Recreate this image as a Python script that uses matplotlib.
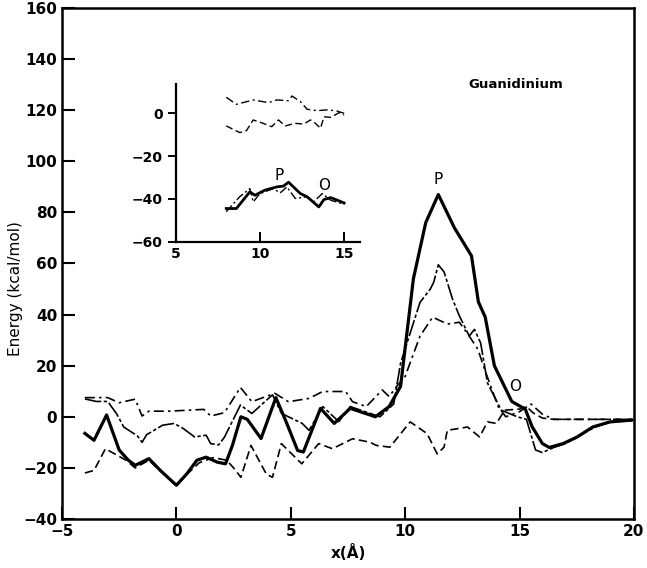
import matplotlib
matplotlib.use("Agg")
from matplotlib import pyplot as plt

# main panel: four energy profiles
xa = [-4.0, -3.6, -3.05, -2.5, -2.1, -1.8, -1.2, -0.7, 0.0, 0.45, 0.9, 1.3, 1.8, 2.15,
      2.45, 2.82, 3.1, 3.7, 4.35, 4.8, 5.3, 5.55, 6.3, 6.9, 7.6, 8.7, 9.3, 9.8, 10.36,
      10.9, 11.45, 12.15, 12.9, 13.2, 13.5, 13.9, 14.66, 15.25, 15.55, 16.0, 16.3, 16.9,
      17.5, 18.2, 18.95, 19.9]
ya = [-6.5, -9.2, 0.7, -13.0, -17.0, -19.0, -16.4, -21.0, -26.8, -22.4, -17.0, -15.8,
      -17.8, -18.4, -11.2, 0.0, -1.0, -8.5, 7.5, -2.0, -13.2, -13.8, 3.3, -2.6, 3.3, 0.0,
      4.0, 11.9, 54.0, 76.0, 87.0, 74.0, 63.0, 45.0, 39.0, 20.0, 6.0, 3.0, -3.9, -10.5,
      -12.0, -10.5, -8.0, -4.0, -2.0, -1.3]

xb = [-4.0, -3.5, -3.0, -2.6, -2.3, -1.7, -1.5, -1.3, -0.6, -0.1, 0.3, 0.8, 1.3, 1.5,
      1.85, 2.1, 2.8, 3.3, 4.2, 4.6, 5.5, 5.8, 6.4, 7.1, 7.6, 8.9, 9.5, 9.8, 10.65, 11.1,
      11.25, 11.45, 11.7, 12.07, 12.37, 12.8, 13.03, 13.3, 13.6, 14.2, 14.9, 15.3, 15.7,
      16.0, 16.5, 17.0, 17.6, 18.3, 19.0, 19.9]
yb = [7.0, 6.0, 6.0, 1.0, -4.0, -7.5, -10.0, -7.0, -3.3, -2.6, -4.6, -7.9, -7.2, -10.5,
      -11.0, -8.0, 4.6, 1.3, 8.6, 1.3, -2.6, -5.3, 4.0, -1.9, 4.0, 0.0, 5.0, 21.0, 44.8,
      50.0, 52.7, 59.5, 56.7, 46.1, 39.5, 31.6, 34.2, 28.9, 13.2, 2.6, 0.0, -1.0, -13.0,
      -14.0, -12.0, -10.5, -7.5, -4.0, -2.0, -1.5]

xc = [-4.0, -3.0, -2.5, -1.8, -1.5, -1.2, -0.3, 1.2, 1.5, 2.1, 2.8, 3.3, 4.3, 4.9, 5.8,
      6.4, 7.4, 7.7, 8.3, 9.0, 9.3, 9.63, 10.0, 10.65, 11.2, 11.85, 12.37, 12.8, 13.18,
      13.48, 14.07, 14.4, 15.0, 15.5, 16.0, 16.5, 18.0, 19.9]
yc = [7.5, 7.5, 5.5, 6.9, 0.3, 2.2, 2.2, 2.9, 0.3, 1.6, 11.5, 5.9, 9.2, 5.9, 7.2, 9.9,
      9.9, 5.9, 4.0, 10.5, 7.9, 11.9, 15.8, 31.6, 39.0, 36.3, 37.0, 31.6, 26.4, 18.4,
      3.9, 0.0, 2.0, 5.0, 1.0, -1.0, -1.0, -1.0]

xd = [-4.0, -3.6, -3.1, -2.7, -2.2, -1.8, -1.2, -0.6, 0.0, 0.4, 1.0, 1.6, 2.2, 2.5,
      2.82, 3.26, 3.93, 4.2, 4.59, 5.48, 6.22, 6.82, 7.7, 8.44, 8.74, 9.33, 10.22, 10.96,
      11.4, 11.7, 11.84, 12.73, 13.25, 13.6, 13.99, 14.35, 15.0, 15.3, 15.6, 16.0, 16.5,
      18.0, 19.9]
yd = [-22.0, -21.0, -12.5, -14.5, -17.0, -20.0, -17.0, -22.0, -27.0, -23.0, -18.0,
      -16.0, -17.0, -20.0, -23.7, -11.2, -22.4, -23.7, -10.5, -18.4, -10.5, -12.5, -8.6,
      -9.9, -11.2, -11.9, -2.0, -6.6, -14.5, -11.9, -5.3, -4.0, -7.9, -2.0, -2.6, 2.6,
      3.0, 4.0, 1.5, -0.5, -1.0, -1.0, -1.0]

# inset
ix1 = [8.0, 8.6, 9.6, 10.5, 11.0, 11.7, 11.9, 12.4, 12.8, 13.4, 13.95, 14.5, 15.0]
iy1 = [7.5, 4.2, 6.25, 5.0, 6.25, 5.9, 8.1, 5.5, 1.9, 1.25, 1.6, 1.25, 0.0]
ix2 = [8.0, 8.8, 9.2, 9.6, 10.2, 10.7, 11.1, 11.5, 12.1, 12.6, 13.0, 13.3, 13.6, 13.8,
       14.2, 14.7, 15.0]
iy2 = [-5.9, -9.0, -8.1, -3.1, -4.7, -6.25, -3.1, -5.9, -4.7, -5.0, -3.1, -4.7, -7.0,
       -1.6, -1.9, 0.3, -0.8]
ix3 = [8.0, 8.6, 9.4, 9.7, 10.3, 11.0, 11.4, 11.7, 12.4, 12.8, 13.5, 13.8, 14.2, 14.5, 15.0]
iy3 = [-44.5, -44.5, -36.7, -38.3, -35.9, -34.4, -34.0, -32.2, -37.5, -39.0, -43.75,
       -40.3, -39.4, -40.3, -41.9]
ix4 = [8.0, 8.8, 9.4, 9.6, 10.0, 10.8, 11.2, 11.6, 12.1, 12.8, 13.2, 13.7, 14.2, 15.0]
iy4 = [-46.0, -39.0, -35.2, -41.4, -37.5, -35.2, -37.2, -34.4, -39.8, -39.0, -41.4,
       -37.5, -40.6, -42.5]

fig = plt.figure(figsize=(6.47, 5.68), dpi=100)
ax = fig.add_axes([0.0958, 0.0863, 0.884, 0.8996])

ax.plot(xa, ya, color='black', lw=2.3)
ax.plot(xb, yb, color='black', lw=1.2, dashes=(10, 1.5, 2, 1.5))
ax.plot(xc, yc, color='black', lw=1.2, dashes=(6, 2.5, 1.5, 2.5))
ax.plot(xd, yd, color='black', lw=1.2, dashes=(5, 2.5))

ax.set_xlim(-5, 20)
ax.set_ylim(-40, 160)
ax.set_xticks(range(-5, 21, 5))
ax.set_yticks(range(-40, 161, 20))
ax.tick_params(direction='in', length=9, width=1.5, top=False, right=False,
               labelsize=11)
for lab in ax.get_xticklabels() + ax.get_yticklabels():
    lab.set_fontweight('bold')
for sp in ax.spines.values():
    sp.set_linewidth(1.8)

ax.set_xlabel(u'x(\u00c5)', fontsize=11, fontweight='bold', labelpad=4)
ax.set_ylabel('Energy (kcal/mol)', fontsize=11, labelpad=4)
ax.yaxis.set_label_coords(-0.068, 0.45)
ax.text(12.75, 130, 'Guanidinium', fontsize=9.5, fontweight='bold', va='center')
ax.text(11.45, 93, 'P', fontsize=11, ha='center', va='center')
ax.text(14.8, 12, 'O', fontsize=11, ha='center', va='center')

ins = fig.add_axes([0.2716, 0.5745, 0.285, 0.2776])
ins.plot(ix1, iy1, color='black', lw=1.0, dashes=(6, 2.5, 1.5, 2.5))
ins.plot(ix2, iy2, color='black', lw=1.0, dashes=(5, 2.5))
ins.plot(ix4, iy4, color='black', lw=1.0, dashes=(6, 2, 1.5, 2))
ins.plot(ix3, iy3, color='black', lw=2.0)
ins.set_xlim(5, 15.95)
ins.set_ylim(-60, 13.7)
ins.set_xticks([5, 10, 15])
ins.set_yticks([0, -20, -40, -60])
ins.spines['top'].set_visible(False)
ins.spines['right'].set_visible(False)
for sp in ('left', 'bottom'):
    ins.spines[sp].set_linewidth(1.6)
ins.tick_params(axis='x', direction='in', length=7, width=1.4, labelsize=10)
ins.tick_params(axis='y', direction='out', length=6, width=1.4, labelsize=10)
for lab in ins.get_xticklabels() + ins.get_yticklabels():
    lab.set_fontweight('bold')
ins.text(11.15, -29, 'P', fontsize=11, ha='center', va='center')
ins.text(13.8, -33.6, 'O', fontsize=11, ha='center', va='center')

plt.savefig('out.png', dpi=100)
